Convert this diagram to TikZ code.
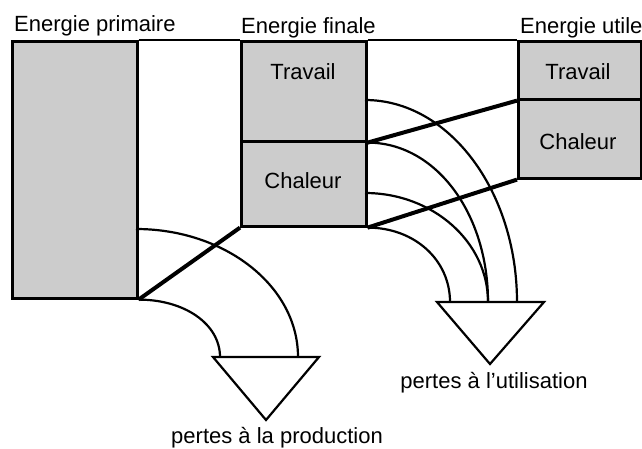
\documentclass[tikz,border=0pt]{standalone}
\usepackage{fontspec}
\setmainfont{Liberation Sans}
\usetikzlibrary{positioning}
\begin{document}
\begin{tikzpicture}[x=1pt, y=-1pt,
    every node/.style={font=\fontsize{22}{26}\selectfont},
    box/.style={draw, line width=2.6pt, fill=black!20, anchor=north west, inner sep=0pt},
    link/.style={line width=2pt},
    heavy/.style={line width=4pt},
    loss/.style={line width=2.2pt, line join=miter}]
    \useasboundingbox (0,0) rectangle (642,448);

    % boxes
    \node[box, minimum width=125pt, minimum height=257pt] (prim) at (11,40) {};
    \node[box, minimum width=125pt, minimum height=100pt] (ftrav) at (240,40) {};
    \node[box, minimum width=125pt, minimum height=85pt] (fchal) at (240,140) {};
    \node[box, minimum width=123pt, minimum height=58pt] (utrav) at (517,40) {};
    \node[box, minimum width=123pt, minimum height=79pt] (uchal) at (517,98) {};
    \node[anchor=base, inner sep=0pt] (ftravtxt) at (303,79) {Travail};
    \node[anchor=base, inner sep=0pt] (fchaltxt) at (303,188) {Chaleur};
    \node[anchor=base, inner sep=0pt] (utravtxt) at (578,79) {Travail};
    \node[anchor=base, inner sep=0pt] (uchaltxt) at (578,149) {Chaleur};

    \node[anchor=base west, inner sep=0pt] (hprim) at (14,31) {Energie primaire};
    \node[anchor=base west, inner sep=0pt] (hfin) at (241,33) {Energie finale};
    \node[anchor=base west, inner sep=0pt] (hutil) at (520,33) {Energie utile};

    \draw[link] (prim.north east) -- (ftrav.north west);
    \draw[link] (ftrav.north east) -- (utrav.north west);

    \draw[heavy] (prim.south east) -- (fchal.south west);
    \draw[heavy] (ftrav.south east) -- (utrav.south west);
    \draw[heavy] (fchal.south east) -- (uchal.south west);

    % sinks
    \coordinate (prodL) at (213,357);
    \coordinate (prodR) at (319,357);
    \coordinate (prodB) at (266,420);
    \draw[loss] (prodL) -- (prodR) -- (prodB) -- cycle;
    \coordinate (utilL) at (437,302);
    \coordinate (utilR) at (544,302);
    \coordinate (utilB) at (490,364);
    \draw[loss] (utilL) -- (utilR) -- (utilB) -- cycle;

    \node[anchor=base, inner sep=0pt] (tprod) at (277,443) {pertes à la production};
    \node[anchor=base, inner sep=0pt] (tutil) at (494,388) {pertes à l’utilisation};

    % losses
    \draw[loss] (136,229) .. controls +(89,0) and +(0,-71) .. (298,357);
    \draw[loss] (prim.south east) .. controls +(46,0) and +(0,-33) .. (220,357);
    \draw[loss] (365,100) .. controls +(84,0) and +(0,-111) .. (517,302);
    \draw[loss] (ftrav.south east) .. controls +(68,0) and +(0,-89) .. (488,302);
    \draw[loss] (365,193) .. controls +(68,0) and +(0,-60) .. (488,302);
    \draw[loss] (fchal.south east) .. controls +(47,0) and +(0,-42) .. (450,302);
\end{tikzpicture}
\end{document}
